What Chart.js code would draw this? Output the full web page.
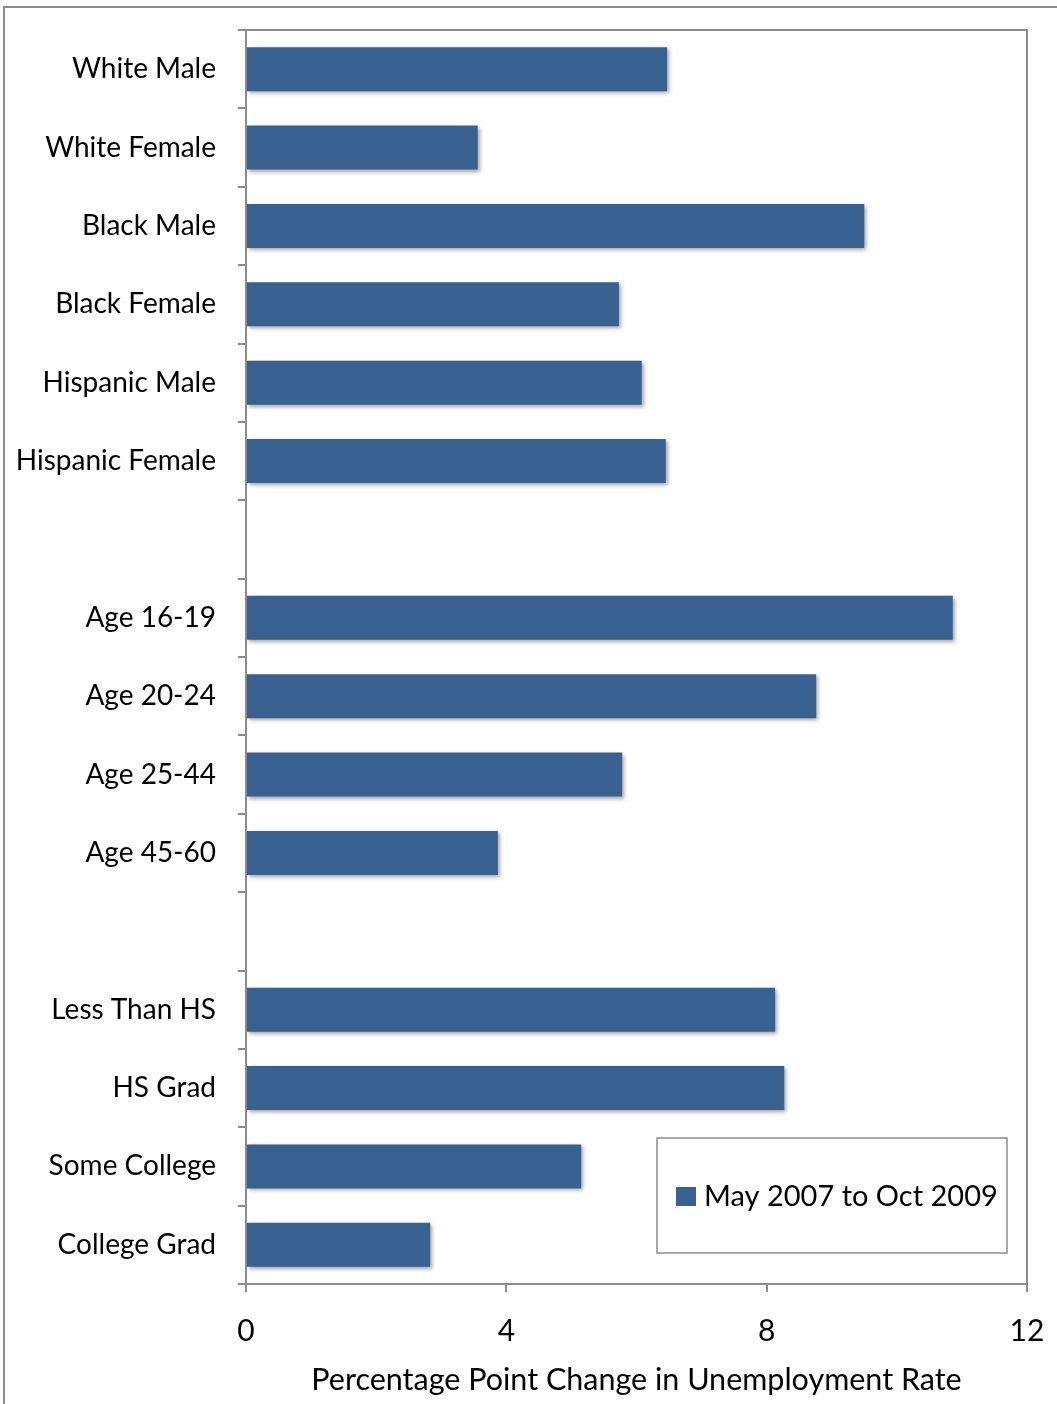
<!DOCTYPE html>
<html>
<head>
<meta charset="utf-8">
<script src="https://cdn.jsdelivr.net/npm/chart.js@4"></script>
<style>
  html, body { margin: 0; padding: 0; background: #fff; }
  #wrap { width: 1057px; height: 1404px; position: relative; }
</style>
</head>
<body>
<div id="wrap"><canvas id="c" width="1057" height="1404"></canvas></div>
<script>
const categories = ["White Male", "White Female", "Black Male", "Black Female", "Hispanic Male", "Hispanic Female", "",
  "Age 16-19", "Age 20-24", "Age 25-44", "Age 45-60", "",
  "Less Than HS", "HS Grad", "Some College", "College Grad"];
const seriesLabel = "May 2007 to Oct 2009";
const values = [6.47, 3.56, 9.50, 5.73, 6.08, 6.45, null,
  10.86, 8.76, 5.78, 3.87, null,
  8.13, 8.27, 5.15, 2.83];
const xTicks = [0, 4, 8, 12];

const FONT = "Lato, 'Open Sans', sans-serif";
const BAR = "#386192";
const GRAY = "#8c8c8c";

const framePlugin = {
  id: 'frame',
  beforeDraw(chart) {
    const ctx = chart.ctx;
    ctx.save();
    ctx.fillStyle = '#fff';
    ctx.fillRect(0, 0, chart.width, chart.height);
    ctx.strokeStyle = GRAY;
    ctx.lineWidth = 2;
    ctx.strokeRect(4, 7, chart.width + 20, chart.height + 20);
    ctx.restore();
  },
  afterDraw(chart) {
    const ctx = chart.ctx, a = chart.chartArea;
    ctx.save();
    ctx.strokeStyle = GRAY;
    ctx.lineWidth = 2;
    ctx.beginPath();
    ctx.moveTo(a.left, a.top);
    ctx.lineTo(a.right, a.top);
    ctx.lineTo(a.right, a.bottom);
    ctx.stroke();
    // legend box inside plot
    const lx = 657, ly = 1138, lw = 350, lh = 115;
    ctx.fillStyle = '#fff';
    ctx.fillRect(lx, ly, lw, lh);
    ctx.lineWidth = 1.5;
    ctx.strokeStyle = GRAY;
    ctx.strokeRect(lx, ly, lw, lh);
    const ds = chart.data.datasets[0];
    ctx.fillStyle = ds.backgroundColor;
    ctx.fillRect(676, 1187, 20, 19);
    ctx.fillStyle = '#000';
    ctx.font = "29px " + FONT;
    ctx.textBaseline = 'middle';
    ctx.textAlign = 'left';
    ctx.fillText(ds.label, 704, 1197);
    ctx.restore();
  }
};

const shadowPlugin = {
  id: 'barShadow',
  beforeDatasetsDraw(chart) {
    const ctx = chart.ctx;
    ctx.save();
    ctx.shadowColor = 'rgba(0,0,0,0.35)';
    ctx.shadowBlur = 4;
    ctx.shadowOffsetX = 2;
    ctx.shadowOffsetY = 2;
  },
  afterDatasetsDraw(chart) {
    chart.ctx.restore();
  }
};

new Chart(document.getElementById('c'), {
  type: 'bar',
  data: {
    labels: categories,
    datasets: [{
      label: seriesLabel,
      data: values,
      backgroundColor: BAR,
      borderWidth: 0,
      categoryPercentage: 1,
      barPercentage: 0.56
    }]
  },
  options: {
    indexAxis: 'y',
    responsive: false,
    animation: false,
    events: [],
    layout: { padding: { top: 30, right: 30, left: 0, bottom: 0 } },
    plugins: {
      legend: { display: false },
      tooltip: { enabled: false }
    },
    scales: {
      y: {
        type: 'category',
        offset: true,
        afterFit(scale) {
          scale.width = 246;
          scale.paddingTop = 0;
          scale.paddingBottom = 0;
        },
        grid: {
          offset: true,
          drawOnChartArea: false,
          drawTicks: true,
          tickLength: 8,
          color: GRAY,
          lineWidth: 2
        },
        border: { display: true, color: GRAY, width: 2 },
        ticks: {
          color: '#000',
          font: { family: FONT, size: 28 },
          padding: 22,
          autoSkip: false
        }
      },
      x: {
        type: 'linear',
        min: 0,
        max: 12,
        afterFit(scale) {
          scale.height = 120;
          scale.paddingLeft = 0;
          scale.paddingRight = 0;
        },
        afterBuildTicks(scale) { scale.ticks = xTicks.map(v => ({ value: v })); },
        grid: {
          drawOnChartArea: false,
          drawTicks: true,
          tickLength: 8,
          color: GRAY,
          lineWidth: 2
        },
        border: { display: true, color: GRAY, width: 2 },
        ticks: {
          color: '#000',
          font: { family: FONT, size: 30 },
          padding: 21
        },
        title: {
          display: true,
          text: 'Percentage Point Change in Unemployment Rate',
          color: '#000',
          font: { family: FONT, size: 30.5 },
          padding: { top: 0, bottom: 6 }
        }
      }
    }
  },
  plugins: [framePlugin, shadowPlugin]
});
</script>
</body>
</html>
